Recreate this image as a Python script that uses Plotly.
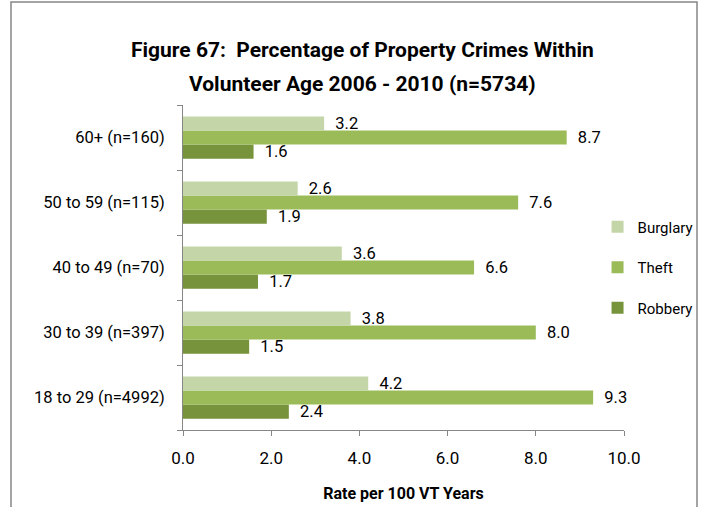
import plotly.graph_objects as go

categories = ["18 to 29 (n=4992)", "30 to 39 (n=397)", "40 to 49 (n=70)", "50 to 59 (n=115)", "60+ (n=160)"]
burglary = [4.2, 3.8, 3.6, 2.6, 3.2]
theft = [9.3, 8.0, 6.6, 7.6, 8.7]
robbery = [2.4, 1.5, 1.7, 1.9, 1.6]
x_ticks = [0, 2, 4, 6, 8, 10]
x_tick_labels = ["0.0", "2.0", "4.0", "6.0", "8.0", "10.0"]
title_lines = ["Figure 67:  Percentage of Property Crimes Within",
               "Volunteer Age 2006 - 2010 (n=5734)"]

FONT = "Roboto, Arial"
W, H = 709, 507
L, R, T, B = 183, 85, 105, 77
pw, ph = W - L - R, H - T - B

fig = go.Figure()
for name, vals, col, rank in [("Robbery", robbery, "#77933C", 3),
                              ("Theft", theft, "#9BBB59", 2),
                              ("Burglary", burglary, "#C4D5A7", 1)]:
    fig.add_trace(go.Bar(
        y=categories, x=vals, name=name, orientation="h", legendgroup=name,
        legendrank=rank,
        marker=dict(color=col, line=dict(width=0)),
        text=[f"  {v:.1f}" for v in vals], textposition="outside",
        constraintext="none",
        textfont=dict(family=FONT, size=16.5, color="#000000"),
        cliponaxis=False,
    ))

fig.update_layout(
    width=W, height=H,
    margin=dict(l=L, r=R, t=T, b=B, autoexpand=False),
    paper_bgcolor="white", plot_bgcolor="white",
    barmode="group", bargap=0.35, bargroupgap=0,
    font=dict(family=FONT, size=16, color="#000000"),
    legend=dict(traceorder="grouped", x=0.94, xanchor="left", y=0.5, yanchor="middle",
                font=dict(family=FONT, size=15), itemwidth=30, tracegroupgap=18,
                bgcolor="rgba(0,0,0,0)"),
    xaxis=dict(range=[0, 10], tickvals=x_ticks, ticktext=x_tick_labels, automargin=False,
               showgrid=False, zeroline=False, showline=True, linecolor="#868686",
               linewidth=1, ticks="outside", tickcolor="#868686", ticklen=5,
               tickfont=dict(family=FONT, size=17), ticklabelstandoff=8,
               title=dict(text="<b>Rate per 100 VT Years</b>", standoff=20,
                          font=dict(family=FONT, size=16))),
    yaxis=dict(range=[-0.5, 4.5], showgrid=False, showline=True, linecolor="#868686",
               automargin=False,
               linewidth=1, ticks="outside", tickson="boundaries", tickcolor="#868686",
               ticklen=5, tickfont=dict(family=FONT, size=16.5), ticklabelstandoff=14),
    showlegend=True,
)

for line, ypix in zip(title_lines, [50, 84]):
    fig.add_annotation(text=f"<b>{line}</b>", xref="paper", yref="paper",
                       x=(362 - L) / pw, y=(H - B - ypix) / ph,
                       xanchor="center", yanchor="middle", showarrow=False,
                       font=dict(family=FONT, size=21, color="#000000"))

fig.add_shape(type="rect", xref="paper", yref="paper",
              x0=(11 - L) / pw, x1=(697 - L) / pw,
              y0=-0.5, y1=(H - B - 2) / ph,
              line=dict(color="#868686", width=1.5), fillcolor="rgba(0,0,0,0)", layer="below")

fig.write_html("out.html", post_script="document.body.style.margin='0';",
               config={"displayModeBar": False})
